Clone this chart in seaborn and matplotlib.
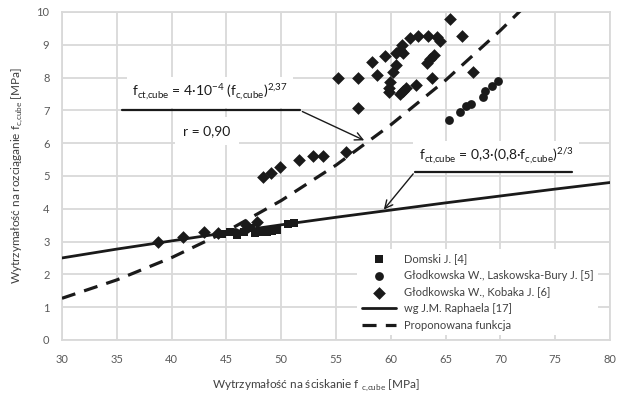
import matplotlib
matplotlib.use("Agg")
import matplotlib.pyplot as plt
import seaborn as sns

# Domski J. [4]
domski_x = [44.6, 45.3, 46.0, 46.6, 47.2, 47.6, 48.1, 48.7, 49.2, 49.6, 50.6, 51.2]
domski_y = [3.22, 3.28, 3.20, 3.30, 3.40, 3.25, 3.30, 3.28, 3.32, 3.35, 3.52, 3.58]

# Głodkowska W., Laskowska-Bury J. [5]
laskowska_x = [45.8, 46.8, 65.3, 66.3, 66.9, 67.3, 68.4, 68.6, 69.2, 69.8]
laskowska_y = [3.30, 3.38, 6.70, 6.96, 7.12, 7.20, 7.42, 7.58, 7.74, 7.90]

# Głodkowska W., Kobaka J. [6]
kobaka_x = [38.8, 41.0, 43.0, 44.2, 46.8, 47.8,
            48.3, 49.1, 49.9, 51.6, 52.9, 53.8, 55.9,
            55.2, 57.0, 57.0, 58.3, 58.7, 59.5, 59.8, 59.8, 59.9, 60.2, 60.5,
            60.5, 60.8, 60.8, 61.0, 61.1, 61.1, 61.4, 61.75, 62.3, 62.45, 63.3,
            63.4, 63.6, 63.8, 63.9, 64.2, 64.5, 65.4, 66.5, 67.5]
kobaka_y = [3.00, 3.15, 3.30, 3.25, 3.50, 3.60,
            4.98, 5.08, 5.28, 5.49, 5.60, 5.60, 5.72,
            7.98, 7.98, 7.06, 8.47, 8.08, 8.67, 7.55, 7.67, 7.88, 8.18, 8.38,
            8.74, 8.84, 7.49, 9.00, 8.74, 7.59, 7.67, 9.20, 7.77, 9.27, 8.43,
            9.27, 8.57, 7.98, 8.69, 9.25, 9.10, 9.80, 9.27, 8.16]

# wg J.M. Raphaela [17]
raphael_x = [30, 35, 40, 45, 50, 55, 60, 65, 70, 75, 80]
raphael_y = [2.50, 2.77, 3.02, 3.27, 3.51, 3.74, 3.96, 4.18, 4.39, 4.60, 4.80]

# Proponowana funkcja
proposed_x = [30, 35, 40, 45, 50, 55, 60, 65, 70, 72.5]
proposed_y = [1.27, 1.83, 2.51, 3.31, 4.25, 5.33, 6.56, 7.92, 9.44, 10.26]

x_ticks = [30, 35, 40, 45, 50, 55, 60, 65, 70, 75, 80]
y_ticks = [0, 1, 2, 3, 4, 5, 6, 7, 8, 9, 10]

sns.set_theme(style="white")
plt.rcParams["font.family"] = ["Lato", "DejaVu Sans"]
plt.rcParams["mathtext.fontset"] = "custom"
plt.rcParams["mathtext.rm"] = "Lato"

INK = "#1a1a1a"
TXT = "#404040"
TICK = "#595959"
GRID = "#d9d9d9"

fig = plt.figure(figsize=(6.21, 3.99), dpi=100)
ax = fig.add_axes([0.0998, 0.148, 0.8826, 0.822])

sns.scatterplot(x=domski_x, y=domski_y, marker="s", s=34, color=INK, edgecolor=INK,
                linewidth=0, label="Domski J. [4]", ax=ax, zorder=3)
sns.scatterplot(x=laskowska_x, y=laskowska_y, marker="o", s=40, color=INK, edgecolor=INK,
                linewidth=0, label="Głodkowska W., Laskowska-Bury J. [5]", ax=ax, zorder=3)
sns.scatterplot(x=kobaka_x, y=kobaka_y, marker="D", s=42, color=INK, edgecolor=INK,
                linewidth=0, label="Głodkowska W., Kobaka J. [6]", ax=ax, zorder=3)
sns.lineplot(x=raphael_x, y=raphael_y, color=INK, linewidth=2.0,
             label="wg J.M. Raphaela [17]", ax=ax, zorder=4)
sns.lineplot(x=proposed_x, y=proposed_y, color=INK, linewidth=2.3,
             linestyle=(0, (4.4, 2.9)), label="Proponowana funkcja", ax=ax, zorder=4)

ax.set_xlim(30, 80)
ax.set_ylim(0, 10)
ax.set_xticks(x_ticks)
ax.set_yticks(y_ticks)
ax.set_axisbelow(True)
ax.grid(True, color=GRID, linewidth=1.3)
for sp in ax.spines.values():
    sp.set_color(GRID)
    sp.set_linewidth(1.3)
ax.tick_params(axis="both", length=0, labelsize=8, labelcolor=TICK)
ax.tick_params(axis="x", pad=10)
ax.tick_params(axis="y", pad=9)

ax.set_xlabel(r"Wytrzymałość na ściskanie f $_\mathregular{c{,}cube}$ [MPa]", fontsize=8.5, color=TXT)
ax.xaxis.set_label_coords(0.4635, -0.113)
ax.set_ylabel(r"Wytrzymałość na rozciąganie f$_\mathregular{c{,}cube}$ [MPa]", fontsize=8.5, color=TXT)
ax.yaxis.set_label_coords(-0.068, 0.5)

# annotation for the proposed function
box = dict(facecolor="white", edgecolor="none", pad=4)
ax.text(43.5, 7.55, r"f$_\mathregular{ct{,}cube}$ = 4·10$^\mathregular{-4}$ (f$_\mathregular{c{,}cube}$)$^\mathregular{2{,}37}$",
        fontsize=10, color=INK, ha="center", va="center", bbox=box, zorder=5)
ax.text(43.2, 6.37, "r = 0,90", fontsize=10, color=INK, ha="center", va="center",
        bbox=dict(facecolor="white", edgecolor="none", pad=6), zorder=5)
ax.plot([35.5, 51.7], [7.0, 7.0], color=INK, linewidth=1.6, zorder=6)
ax.annotate("", xy=(57.8, 6.05), xytext=(51.7, 7.0),
            arrowprops=dict(arrowstyle="->", color=INK, lw=1.0, mutation_scale=14), zorder=6)

# annotation for Raphael's function
ax.text(69.6, 5.6, r"f$_\mathregular{ct{,}cube}$ = 0,3·(0,8·f$_\mathregular{c{,}cube}$)$^\mathregular{2/3}$",
        fontsize=10, color=INK, ha="center", va="center", bbox=box, zorder=5)
ax.plot([62.2, 76.5], [5.13, 5.13], color=INK, linewidth=1.6, zorder=6)
ax.annotate("", xy=(59.2, 3.91), xytext=(62.2, 5.13),
            arrowprops=dict(arrowstyle="->", color=INK, lw=1.0, mutation_scale=14), zorder=6)

leg = ax.legend(loc="lower right", bbox_to_anchor=(0.978, 0.015), borderaxespad=0,
                fontsize=8, frameon=True, facecolor="white", edgecolor="none", framealpha=1,
                handlelength=3.1, handletextpad=0.7, labelspacing=0.5, borderpad=0.4,
                fancybox=False)
for t in leg.get_texts():
    t.set_color(TXT)
leg.set_zorder(7)

fig.savefig("out.png", dpi=100)
